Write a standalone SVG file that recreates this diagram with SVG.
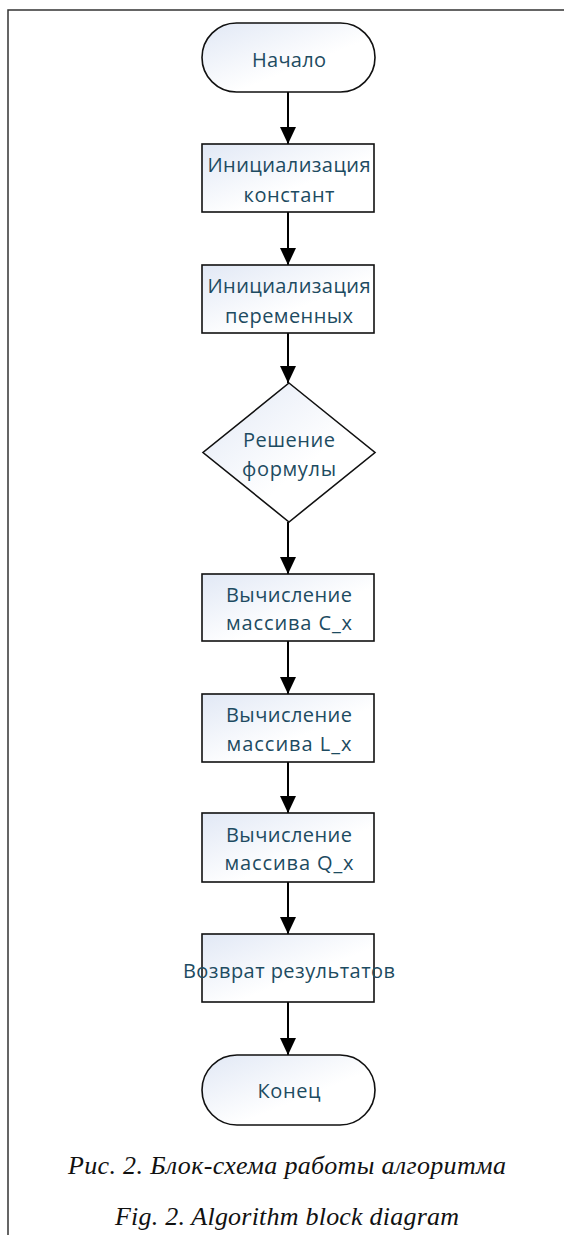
<svg xmlns="http://www.w3.org/2000/svg" width="564" height="1235" viewBox="0 0 564 1235">
<style>
.shape{fill:url(#g);stroke:#111;stroke-width:1.6}
.t{font-family:"Open Sans","Noto Sans",sans-serif;font-size:20px;fill:#1d4b61;text-anchor:middle}
.cap{font-family:"Liberation Serif","Times New Roman",serif;font-style:italic;font-size:26px;fill:#111;text-anchor:middle}
.c{stroke:#000;stroke-width:2;fill:none;marker-end:url(#ah)}
</style>
<defs>
<linearGradient id="g" x1="0" y1="0" x2="1" y2="1">
<stop offset="0" stop-color="#e1e8f5"/>
<stop offset="0.6" stop-color="#ffffff"/>
</linearGradient>
<marker id="ah" markerUnits="userSpaceOnUse" markerWidth="17" markerHeight="16" refX="17" refY="8" orient="auto">
<path d="M0,0 L17,8 L0,16 Z" fill="#000"/>
</marker>
</defs>
<rect width="564" height="1235" fill="#fff"/>
<g id="frame">
<path d="M8,1235 V10 H564" fill="none" stroke="#333" stroke-width="1.5"/>
</g>
<g id="connectors">
<line class="c" x1="288" y1="92" x2="288" y2="144"/>
<line class="c" x1="288" y1="212" x2="288" y2="265"/>
<line class="c" x1="288" y1="333" x2="288" y2="383"/>
<line class="c" x1="288" y1="522" x2="288" y2="574"/>
<line class="c" x1="288" y1="641" x2="288" y2="694"/>
<line class="c" x1="288" y1="762" x2="288" y2="813"/>
<line class="c" x1="288" y1="882" x2="288" y2="934"/>
<line class="c" x1="288" y1="1002" x2="288" y2="1055"/>
</g>
<g id="start">
<rect class="shape" x="202" y="23" width="173" height="69" rx="34.5"/>
<text class="t" x="289" y="67" textLength="74" lengthAdjust="spacing">Начало</text>
</g>
<g id="init-const">
<rect class="shape" x="202" y="144" width="172" height="68"/>
<text class="t" x="289" y="172" textLength="163" lengthAdjust="spacing">Инициализация</text>
<text class="t" x="289" y="202" textLength="91" lengthAdjust="spacing">констант</text>
</g>
<g id="init-vars">
<rect class="shape" x="202" y="265" width="172" height="68"/>
<text class="t" x="289" y="293" textLength="163" lengthAdjust="spacing">Инициализация</text>
<text class="t" x="289" y="323" textLength="128" lengthAdjust="spacing">переменных</text>
</g>
<g id="solve">
<polygon class="shape" points="289,383 375,452.5 289,522 203,452.5"/>
<text class="t" x="289" y="447" textLength="92" lengthAdjust="spacing">Решение</text>
<text class="t" x="289" y="476" textLength="94" lengthAdjust="spacing">формулы</text>
</g>
<g id="calc-c">
<rect class="shape" x="202" y="574" width="172" height="67"/>
<text class="t" x="289" y="602" textLength="126" lengthAdjust="spacing">Вычисление</text>
<text class="t" x="289" y="630" textLength="126" lengthAdjust="spacing">массива C_x</text>
</g>
<g id="calc-l">
<rect class="shape" x="202" y="694" width="172" height="68"/>
<text class="t" x="289" y="722" textLength="126" lengthAdjust="spacing">Вычисление</text>
<text class="t" x="289" y="751" textLength="125" lengthAdjust="spacing">массива L_x</text>
</g>
<g id="calc-q">
<rect class="shape" x="202" y="813" width="172" height="69"/>
<text class="t" x="289" y="842" textLength="126" lengthAdjust="spacing">Вычисление</text>
<text class="t" x="289" y="870" textLength="129" lengthAdjust="spacing">массива Q_x</text>
</g>
<g id="return">
<rect class="shape" x="202" y="934" width="172" height="68"/>
<text class="t" x="289" y="978" textLength="212" lengthAdjust="spacing">Возврат результатов</text>
</g>
<g id="end">
<rect class="shape" x="202" y="1055" width="173" height="70" rx="35"/>
<text class="t" x="289" y="1098" textLength="63" lengthAdjust="spacing">Конец</text>
</g>
<g id="captions">
<text class="cap" x="287" y="1174" textLength="438" lengthAdjust="spacing">Рис. 2. Блок-схема работы алгоритма</text>
<text class="cap" x="287" y="1225" textLength="344" lengthAdjust="spacing">Fig. 2. Algorithm block diagram</text>
</g>
</svg>
